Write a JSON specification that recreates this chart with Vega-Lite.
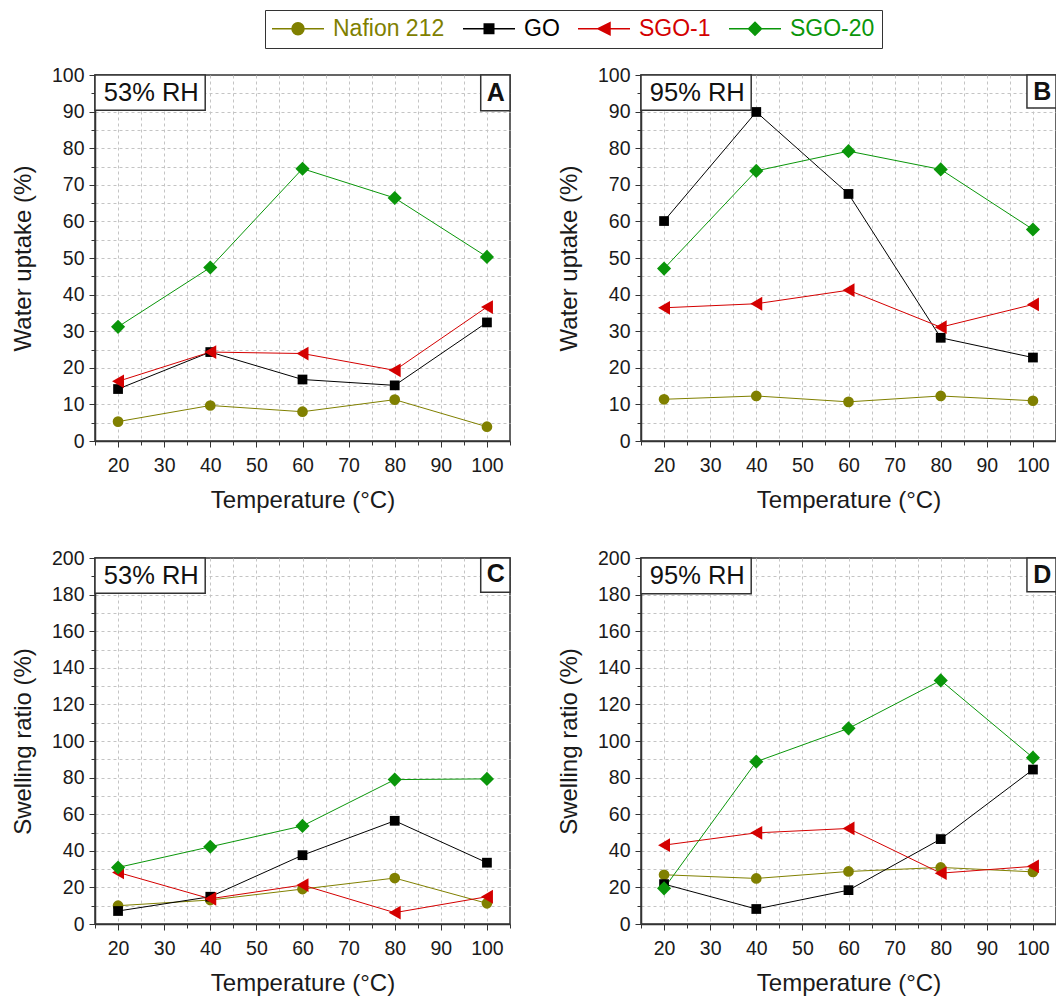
{
  "$schema": "https://vega.github.io/schema/vega-lite/v6.json",
  "background": "white",
  "padding": {"left": 10, "top": 9, "right": 0, "bottom": 0},
  "datasets": {
    "measurements": [
      {"panel": "A", "temperature": 20, "membrane": "Nafion 212", "value": 5.3},
      {"panel": "A", "temperature": 40, "membrane": "Nafion 212", "value": 9.7},
      {"panel": "A", "temperature": 60, "membrane": "Nafion 212", "value": 8.0},
      {"panel": "A", "temperature": 80, "membrane": "Nafion 212", "value": 11.3},
      {"panel": "A", "temperature": 100, "membrane": "Nafion 212", "value": 3.9},
      {"panel": "A", "temperature": 20, "membrane": "GO", "value": 14.2},
      {"panel": "A", "temperature": 40, "membrane": "GO", "value": 24.3},
      {"panel": "A", "temperature": 60, "membrane": "GO", "value": 16.8},
      {"panel": "A", "temperature": 80, "membrane": "GO", "value": 15.2},
      {"panel": "A", "temperature": 100, "membrane": "GO", "value": 32.4},
      {"panel": "A", "temperature": 20, "membrane": "SGO-1", "value": 16.3},
      {"panel": "A", "temperature": 40, "membrane": "SGO-1", "value": 24.3},
      {"panel": "A", "temperature": 60, "membrane": "SGO-1", "value": 23.9},
      {"panel": "A", "temperature": 80, "membrane": "SGO-1", "value": 19.3},
      {"panel": "A", "temperature": 100, "membrane": "SGO-1", "value": 36.6},
      {"panel": "A", "temperature": 20, "membrane": "SGO-20", "value": 31.2},
      {"panel": "A", "temperature": 40, "membrane": "SGO-20", "value": 47.4},
      {"panel": "A", "temperature": 60, "membrane": "SGO-20", "value": 74.4},
      {"panel": "A", "temperature": 80, "membrane": "SGO-20", "value": 66.4},
      {"panel": "A", "temperature": 100, "membrane": "SGO-20", "value": 50.3},

      {"panel": "B", "temperature": 20, "membrane": "Nafion 212", "value": 11.4},
      {"panel": "B", "temperature": 40, "membrane": "Nafion 212", "value": 12.3},
      {"panel": "B", "temperature": 60, "membrane": "Nafion 212", "value": 10.7},
      {"panel": "B", "temperature": 80, "membrane": "Nafion 212", "value": 12.3},
      {"panel": "B", "temperature": 100, "membrane": "Nafion 212", "value": 11.0},
      {"panel": "B", "temperature": 20, "membrane": "GO", "value": 60.1},
      {"panel": "B", "temperature": 40, "membrane": "GO", "value": 89.9},
      {"panel": "B", "temperature": 60, "membrane": "GO", "value": 67.5},
      {"panel": "B", "temperature": 80, "membrane": "GO", "value": 28.2},
      {"panel": "B", "temperature": 100, "membrane": "GO", "value": 22.8},
      {"panel": "B", "temperature": 20, "membrane": "SGO-1", "value": 36.4},
      {"panel": "B", "temperature": 40, "membrane": "SGO-1", "value": 37.5},
      {"panel": "B", "temperature": 60, "membrane": "SGO-1", "value": 41.2},
      {"panel": "B", "temperature": 80, "membrane": "SGO-1", "value": 31.1},
      {"panel": "B", "temperature": 100, "membrane": "SGO-1", "value": 37.3},
      {"panel": "B", "temperature": 20, "membrane": "SGO-20", "value": 47.1},
      {"panel": "B", "temperature": 40, "membrane": "SGO-20", "value": 73.8},
      {"panel": "B", "temperature": 60, "membrane": "SGO-20", "value": 79.2},
      {"panel": "B", "temperature": 80, "membrane": "SGO-20", "value": 74.2},
      {"panel": "B", "temperature": 100, "membrane": "SGO-20", "value": 57.8},

      {"panel": "C", "temperature": 20, "membrane": "Nafion 212", "value": 10.0},
      {"panel": "C", "temperature": 40, "membrane": "Nafion 212", "value": 13.1},
      {"panel": "C", "temperature": 60, "membrane": "Nafion 212", "value": 19.1},
      {"panel": "C", "temperature": 80, "membrane": "Nafion 212", "value": 25.1},
      {"panel": "C", "temperature": 100, "membrane": "Nafion 212", "value": 11.3},
      {"panel": "C", "temperature": 20, "membrane": "GO", "value": 7.1},
      {"panel": "C", "temperature": 40, "membrane": "GO", "value": 14.9},
      {"panel": "C", "temperature": 60, "membrane": "GO", "value": 37.6},
      {"panel": "C", "temperature": 80, "membrane": "GO", "value": 56.4},
      {"panel": "C", "temperature": 100, "membrane": "GO", "value": 33.5},
      {"panel": "C", "temperature": 20, "membrane": "SGO-1", "value": 28.2},
      {"panel": "C", "temperature": 40, "membrane": "SGO-1", "value": 13.8},
      {"panel": "C", "temperature": 60, "membrane": "SGO-1", "value": 21.3},
      {"panel": "C", "temperature": 80, "membrane": "SGO-1", "value": 6.2},
      {"panel": "C", "temperature": 100, "membrane": "SGO-1", "value": 14.9},
      {"panel": "C", "temperature": 20, "membrane": "SGO-20", "value": 30.9},
      {"panel": "C", "temperature": 40, "membrane": "SGO-20", "value": 42.2},
      {"panel": "C", "temperature": 60, "membrane": "SGO-20", "value": 53.6},
      {"panel": "C", "temperature": 80, "membrane": "SGO-20", "value": 78.9},
      {"panel": "C", "temperature": 100, "membrane": "SGO-20", "value": 79.3},

      {"panel": "D", "temperature": 20, "membrane": "Nafion 212", "value": 26.9},
      {"panel": "D", "temperature": 40, "membrane": "Nafion 212", "value": 24.9},
      {"panel": "D", "temperature": 60, "membrane": "Nafion 212", "value": 28.7},
      {"panel": "D", "temperature": 80, "membrane": "Nafion 212", "value": 30.9},
      {"panel": "D", "temperature": 100, "membrane": "Nafion 212", "value": 28.5},
      {"panel": "D", "temperature": 20, "membrane": "GO", "value": 21.8},
      {"panel": "D", "temperature": 40, "membrane": "GO", "value": 8.2},
      {"panel": "D", "temperature": 60, "membrane": "GO", "value": 18.5},
      {"panel": "D", "temperature": 80, "membrane": "GO", "value": 46.4},
      {"panel": "D", "temperature": 100, "membrane": "GO", "value": 84.4},
      {"panel": "D", "temperature": 20, "membrane": "SGO-1", "value": 43.1},
      {"panel": "D", "temperature": 40, "membrane": "SGO-1", "value": 49.8},
      {"panel": "D", "temperature": 60, "membrane": "SGO-1", "value": 52.2},
      {"panel": "D", "temperature": 80, "membrane": "SGO-1", "value": 27.8},
      {"panel": "D", "temperature": 100, "membrane": "SGO-1", "value": 31.5},
      {"panel": "D", "temperature": 20, "membrane": "SGO-20", "value": 19.5},
      {"panel": "D", "temperature": 40, "membrane": "SGO-20", "value": 88.7},
      {"panel": "D", "temperature": 60, "membrane": "SGO-20", "value": 106.9},
      {"panel": "D", "temperature": 80, "membrane": "SGO-20", "value": 133.1},
      {"panel": "D", "temperature": 100, "membrane": "SGO-20", "value": 90.9}
    ]
  },
  "columns": 2,
  "spacing": {"row": 117, "column": 131},
  "bounds": "flush",
  "concat": [
    {
      "width": 415,
      "height": 366,
      "layer": [
        {
          "data": {"name": "measurements"},
          "transform": [{"filter": "datum.panel === 'A'"}],
          "encoding": {
            "x": {
              "field": "temperature", "type": "quantitative",
              "scale": {"domain": [15, 105], "nice": false, "zero": false},
              "axis": {
                "title": "Temperature (°C)",
                "values": [15, 20, 25, 30, 35, 40, 45, 50, 55, 60, 65, 70, 75, 80, 85, 90, 95, 100, 105],
                "tickCount": 200,
                "format": "d",
                "labelExpr": "datum.value % 10 === 0 ? datum.label : ''",
                "labelOverlap": false,
                "gridOpacity": {"condition": {"test": "datum.value === 15 || datum.value === 105", "value": 0}, "value": 1},
                "tickSize": {"condition": {"test": "datum.value % 10 === 0", "value": 6}, "value": 4}
              }
            },
            "y": {
              "field": "value", "type": "quantitative",
              "scale": {"domain": [0, 100], "nice": false, "zero": false},
              "axis": {
                "title": "Water uptake (%)",
                "values": [0, 5, 10, 15, 20, 25, 30, 35, 40, 45, 50, 55, 60, 65, 70, 75, 80, 85, 90, 95, 100],
                "tickCount": 200,
                "format": "d",
                "labelExpr": "datum.value % 10 === 0 ? datum.label : ''",
                "labelOverlap": false,
                "gridOpacity": {"condition": {"test": "datum.value === 0 || datum.value === 100", "value": 0}, "value": 1},
                "tickSize": {"condition": {"test": "datum.value % 10 === 0", "value": 6}, "value": 4}
              }
            },
            "color": {
              "field": "membrane", "type": "nominal",
              "scale": {"domain": ["Nafion 212", "GO", "SGO-1", "SGO-20"], "range": ["#808000", "#000000", "#D40000", "#0A960A"]},
              "legend": {
                "title": null,
                "orient": "none",
                "legendX": 170,
                "legendY": -65,
                "direction": "horizontal",
                "columns": 4,
                "symbolSize": 100,
                "symbolStrokeWidth": 1.5,
                "labelOffset": 38,
                "columnPadding": 15,
                "padding": 7,
                "labelFontSize": 23,
                "labelLimit": 400,
                "strokeColor": "#333333",
                "fillColor": "white",
                "encode": {
                  "symbols": {
                    "update": {
                      "stroke": {"scale": "color", "field": "value"},
                      "strokeWidth": {"value": 1.5},
                      "opacity": {"value": 1}
                    }
                  },
                  "labels": {"update": {"fill": {"scale": "color", "field": "value"}}}
                }
              }
            }
          },
          "layer": [
            {"mark": {"type": "line", "strokeWidth": 1}, "encoding": {}},
            {"transform": [{"filter": "datum.membrane === 'Nafion 212'"}], "mark": {"type": "point", "shape": "circle", "size": 115, "filled": true, "opacity": 1}, "encoding": {}},
            {"transform": [{"filter": "datum.membrane === 'GO'"}], "mark": {"type": "point", "shape": "square", "size": 95, "filled": true, "opacity": 1}, "encoding": {}},
            {"transform": [{"filter": "datum.membrane === 'SGO-1'"}], "mark": {"type": "point", "shape": "triangle-left", "size": 190, "filled": true, "opacity": 1}, "encoding": {}},
            {"transform": [{"filter": "datum.membrane === 'SGO-20'"}], "mark": {"type": "point", "shape": "diamond", "size": 200, "filled": true, "opacity": 1}, "encoding": {}},
            {
              "mark": {"type": "point", "filled": true, "opacity": 0},
              "encoding": {
                "shape": {
                  "field": "membrane", "type": "nominal",
                  "scale": {
                    "domain": ["Nafion 212", "GO", "SGO-1", "SGO-20"],
                    "range": [
                      "M-2.3,0H8.1M1.7,0A1.2,1.2 0 1,1 4.1,0A1.2,1.2 0 1,1 1.7,0Z",
                      "M-2.3,0H8.1M1.95,-0.95H3.85V0.95H1.95Z",
                      "M-2.3,0H8.1M1.7,0L4.1,-1.2L4.1,1.2Z",
                      "M-2.3,0H8.1M1.6,0L2.9,-1.3L4.2,0L2.9,1.3Z"
                    ]
                  }
                }
              }
            }
          ]
        },
        {
          "data": {"values": [{"humidity": "53% RH", "tag": "A"}]},
          "layer": [
            {
              "mark": {"type": "rect", "fill": "white", "stroke": "#333333", "strokeWidth": 1.5},
              "encoding": {"x": {"datum": 15, "type": "quantitative"}, "x2": {"datum": 38.9}, "y": {"datum": 100, "type": "quantitative"}, "y2": {"datum": 90.4}}
            },
            {
              "mark": {"type": "rect", "fill": "white", "stroke": "#333333", "strokeWidth": 1.5},
              "encoding": {"x": {"datum": 98.65, "type": "quantitative"}, "x2": {"datum": 105}, "y": {"datum": 100, "type": "quantitative"}, "y2": {"datum": 90.2}}
            },
            {
              "mark": {"type": "text", "fontSize": 25.5, "color": "#111111"},
              "encoding": {"x": {"datum": 27.2, "type": "quantitative"}, "y": {"datum": 95.0, "type": "quantitative"}, "text": {"field": "humidity"}}
            },
            {
              "mark": {"type": "text", "fontSize": 25, "fontWeight": "bold", "color": "#111111"},
              "encoding": {"x": {"datum": 101.9, "type": "quantitative"}, "y": {"datum": 95.1, "type": "quantitative"}, "text": {"field": "tag"}}
            }
          ]
        }
      ]
    },
    {
      "width": 415,
      "height": 366,
      "layer": [
        {
          "data": {"name": "measurements"},
          "transform": [{"filter": "datum.panel === 'B'"}],
          "encoding": {
            "x": {
              "field": "temperature", "type": "quantitative",
              "scale": {"domain": [15, 105], "nice": false, "zero": false},
              "axis": {
                "title": "Temperature (°C)",
                "values": [15, 20, 25, 30, 35, 40, 45, 50, 55, 60, 65, 70, 75, 80, 85, 90, 95, 100, 105],
                "tickCount": 200,
                "format": "d",
                "labelExpr": "datum.value % 10 === 0 ? datum.label : ''",
                "labelOverlap": false,
                "gridOpacity": {"condition": {"test": "datum.value === 15 || datum.value === 105", "value": 0}, "value": 1},
                "tickSize": {"condition": {"test": "datum.value % 10 === 0", "value": 6}, "value": 4}
              }
            },
            "y": {
              "field": "value", "type": "quantitative",
              "scale": {"domain": [0, 100], "nice": false, "zero": false},
              "axis": {
                "title": "Water uptake (%)",
                "values": [0, 5, 10, 15, 20, 25, 30, 35, 40, 45, 50, 55, 60, 65, 70, 75, 80, 85, 90, 95, 100],
                "tickCount": 200,
                "format": "d",
                "labelExpr": "datum.value % 10 === 0 ? datum.label : ''",
                "labelOverlap": false,
                "gridOpacity": {"condition": {"test": "datum.value === 0 || datum.value === 100", "value": 0}, "value": 1},
                "tickSize": {"condition": {"test": "datum.value % 10 === 0", "value": 6}, "value": 4}
              }
            },
            "color": {
              "field": "membrane", "type": "nominal",
              "scale": {"domain": ["Nafion 212", "GO", "SGO-1", "SGO-20"], "range": ["#808000", "#000000", "#D40000", "#0A960A"]}
            }
          },
          "layer": [
            {"mark": {"type": "line", "strokeWidth": 1}, "encoding": {}},
            {"transform": [{"filter": "datum.membrane === 'Nafion 212'"}], "mark": {"type": "point", "shape": "circle", "size": 115, "filled": true, "opacity": 1}, "encoding": {}},
            {"transform": [{"filter": "datum.membrane === 'GO'"}], "mark": {"type": "point", "shape": "square", "size": 95, "filled": true, "opacity": 1}, "encoding": {}},
            {"transform": [{"filter": "datum.membrane === 'SGO-1'"}], "mark": {"type": "point", "shape": "triangle-left", "size": 190, "filled": true, "opacity": 1}, "encoding": {}},
            {"transform": [{"filter": "datum.membrane === 'SGO-20'"}], "mark": {"type": "point", "shape": "diamond", "size": 200, "filled": true, "opacity": 1}, "encoding": {}}
          ]
        },
        {
          "data": {"values": [{"humidity": "95% RH", "tag": "B"}]},
          "layer": [
            {
              "mark": {"type": "rect", "fill": "white", "stroke": "#333333", "strokeWidth": 1.5},
              "encoding": {"x": {"datum": 15, "type": "quantitative"}, "x2": {"datum": 38.9}, "y": {"datum": 100, "type": "quantitative"}, "y2": {"datum": 90.4}}
            },
            {
              "mark": {"type": "rect", "fill": "white", "stroke": "#333333", "strokeWidth": 1.5},
              "encoding": {"x": {"datum": 98.7, "type": "quantitative"}, "x2": {"datum": 105}, "y": {"datum": 100, "type": "quantitative"}, "y2": {"datum": 91.0}}
            },
            {
              "mark": {"type": "text", "fontSize": 25.5, "color": "#111111"},
              "encoding": {"x": {"datum": 27.2, "type": "quantitative"}, "y": {"datum": 95.0, "type": "quantitative"}, "text": {"field": "humidity"}}
            },
            {
              "mark": {"type": "text", "fontSize": 25, "fontWeight": "bold", "color": "#111111"},
              "encoding": {"x": {"datum": 102.0, "type": "quantitative"}, "y": {"datum": 95.4, "type": "quantitative"}, "text": {"field": "tag"}}
            }
          ]
        }
      ]
    },
    {
      "width": 415,
      "height": 366,
      "layer": [
        {
          "data": {"name": "measurements"},
          "transform": [{"filter": "datum.panel === 'C'"}],
          "encoding": {
            "x": {
              "field": "temperature", "type": "quantitative",
              "scale": {"domain": [15, 105], "nice": false, "zero": false},
              "axis": {
                "title": "Temperature (°C)",
                "values": [15, 20, 25, 30, 35, 40, 45, 50, 55, 60, 65, 70, 75, 80, 85, 90, 95, 100, 105],
                "tickCount": 200,
                "format": "d",
                "labelExpr": "datum.value % 10 === 0 ? datum.label : ''",
                "labelOverlap": false,
                "gridOpacity": {"condition": {"test": "datum.value === 15 || datum.value === 105", "value": 0}, "value": 1},
                "tickSize": {"condition": {"test": "datum.value % 10 === 0", "value": 6}, "value": 4}
              }
            },
            "y": {
              "field": "value", "type": "quantitative",
              "scale": {"domain": [0, 200], "nice": false, "zero": false},
              "axis": {
                "title": "Swelling ratio (%)",
                "values": [0, 10, 20, 30, 40, 50, 60, 70, 80, 90, 100, 110, 120, 130, 140, 150, 160, 170, 180, 190, 200],
                "tickCount": 200,
                "format": "d",
                "labelExpr": "datum.value % 20 === 0 ? datum.label : ''",
                "labelOverlap": false,
                "gridOpacity": {"condition": {"test": "datum.value === 0 || datum.value === 200", "value": 0}, "value": 1},
                "tickSize": {"condition": {"test": "datum.value % 20 === 0", "value": 6}, "value": 4}
              }
            },
            "color": {
              "field": "membrane", "type": "nominal",
              "scale": {"domain": ["Nafion 212", "GO", "SGO-1", "SGO-20"], "range": ["#808000", "#000000", "#D40000", "#0A960A"]}
            }
          },
          "layer": [
            {"mark": {"type": "line", "strokeWidth": 1}, "encoding": {}},
            {"transform": [{"filter": "datum.membrane === 'Nafion 212'"}], "mark": {"type": "point", "shape": "circle", "size": 115, "filled": true, "opacity": 1}, "encoding": {}},
            {"transform": [{"filter": "datum.membrane === 'GO'"}], "mark": {"type": "point", "shape": "square", "size": 95, "filled": true, "opacity": 1}, "encoding": {}},
            {"transform": [{"filter": "datum.membrane === 'SGO-1'"}], "mark": {"type": "point", "shape": "triangle-left", "size": 190, "filled": true, "opacity": 1}, "encoding": {}},
            {"transform": [{"filter": "datum.membrane === 'SGO-20'"}], "mark": {"type": "point", "shape": "diamond", "size": 200, "filled": true, "opacity": 1}, "encoding": {}}
          ]
        },
        {
          "data": {"values": [{"humidity": "53% RH", "tag": "C"}]},
          "layer": [
            {
              "mark": {"type": "rect", "fill": "white", "stroke": "#333333", "strokeWidth": 1.5},
              "encoding": {"x": {"datum": 15, "type": "quantitative"}, "x2": {"datum": 38.9}, "y": {"datum": 200, "type": "quantitative"}, "y2": {"datum": 180.7}}
            },
            {
              "mark": {"type": "rect", "fill": "white", "stroke": "#333333", "strokeWidth": 1.5},
              "encoding": {"x": {"datum": 98.65, "type": "quantitative"}, "x2": {"datum": 105}, "y": {"datum": 200, "type": "quantitative"}, "y2": {"datum": 181.3}}
            },
            {
              "mark": {"type": "text", "fontSize": 25.5, "color": "#111111"},
              "encoding": {"x": {"datum": 27.2, "type": "quantitative"}, "y": {"datum": 190.4, "type": "quantitative"}, "text": {"field": "humidity"}}
            },
            {
              "mark": {"type": "text", "fontSize": 25, "fontWeight": "bold", "color": "#111111"},
              "encoding": {"x": {"datum": 101.9, "type": "quantitative"}, "y": {"datum": 191.0, "type": "quantitative"}, "text": {"field": "tag"}}
            }
          ]
        }
      ]
    },
    {
      "width": 415,
      "height": 366,
      "layer": [
        {
          "data": {"name": "measurements"},
          "transform": [{"filter": "datum.panel === 'D'"}],
          "encoding": {
            "x": {
              "field": "temperature", "type": "quantitative",
              "scale": {"domain": [15, 105], "nice": false, "zero": false},
              "axis": {
                "title": "Temperature (°C)",
                "values": [15, 20, 25, 30, 35, 40, 45, 50, 55, 60, 65, 70, 75, 80, 85, 90, 95, 100, 105],
                "tickCount": 200,
                "format": "d",
                "labelExpr": "datum.value % 10 === 0 ? datum.label : ''",
                "labelOverlap": false,
                "gridOpacity": {"condition": {"test": "datum.value === 15 || datum.value === 105", "value": 0}, "value": 1},
                "tickSize": {"condition": {"test": "datum.value % 10 === 0", "value": 6}, "value": 4}
              }
            },
            "y": {
              "field": "value", "type": "quantitative",
              "scale": {"domain": [0, 200], "nice": false, "zero": false},
              "axis": {
                "title": "Swelling ratio (%)",
                "values": [0, 10, 20, 30, 40, 50, 60, 70, 80, 90, 100, 110, 120, 130, 140, 150, 160, 170, 180, 190, 200],
                "tickCount": 200,
                "format": "d",
                "labelExpr": "datum.value % 20 === 0 ? datum.label : ''",
                "labelOverlap": false,
                "gridOpacity": {"condition": {"test": "datum.value === 0 || datum.value === 200", "value": 0}, "value": 1},
                "tickSize": {"condition": {"test": "datum.value % 20 === 0", "value": 6}, "value": 4}
              }
            },
            "color": {
              "field": "membrane", "type": "nominal",
              "scale": {"domain": ["Nafion 212", "GO", "SGO-1", "SGO-20"], "range": ["#808000", "#000000", "#D40000", "#0A960A"]}
            }
          },
          "layer": [
            {"mark": {"type": "line", "strokeWidth": 1}, "encoding": {}},
            {"transform": [{"filter": "datum.membrane === 'Nafion 212'"}], "mark": {"type": "point", "shape": "circle", "size": 115, "filled": true, "opacity": 1}, "encoding": {}},
            {"transform": [{"filter": "datum.membrane === 'GO'"}], "mark": {"type": "point", "shape": "square", "size": 95, "filled": true, "opacity": 1}, "encoding": {}},
            {"transform": [{"filter": "datum.membrane === 'SGO-1'"}], "mark": {"type": "point", "shape": "triangle-left", "size": 190, "filled": true, "opacity": 1}, "encoding": {}},
            {"transform": [{"filter": "datum.membrane === 'SGO-20'"}], "mark": {"type": "point", "shape": "diamond", "size": 200, "filled": true, "opacity": 1}, "encoding": {}}
          ]
        },
        {
          "data": {"values": [{"humidity": "95% RH", "tag": "D"}]},
          "layer": [
            {
              "mark": {"type": "rect", "fill": "white", "stroke": "#333333", "strokeWidth": 1.5},
              "encoding": {"x": {"datum": 15, "type": "quantitative"}, "x2": {"datum": 38.9}, "y": {"datum": 200, "type": "quantitative"}, "y2": {"datum": 180.4}}
            },
            {
              "mark": {"type": "rect", "fill": "white", "stroke": "#333333", "strokeWidth": 1.5},
              "encoding": {"x": {"datum": 98.7, "type": "quantitative"}, "x2": {"datum": 105}, "y": {"datum": 200, "type": "quantitative"}, "y2": {"datum": 181.5}}
            },
            {
              "mark": {"type": "text", "fontSize": 25.5, "color": "#111111"},
              "encoding": {"x": {"datum": 27.2, "type": "quantitative"}, "y": {"datum": 190.0, "type": "quantitative"}, "text": {"field": "humidity"}}
            },
            {
              "mark": {"type": "text", "fontSize": 25, "fontWeight": "bold", "color": "#111111"},
              "encoding": {"x": {"datum": 102.0, "type": "quantitative"}, "y": {"datum": 190.9, "type": "quantitative"}, "text": {"field": "tag"}}
            }
          ]
        }
      ]
    }
  ],
  "config": {
    "font": "Liberation Sans",
    "view": {"stroke": "#333333", "strokeWidth": 1.5},
    "axis": {
      "labelFont": "Liberation Sans",
      "titleFont": "Liberation Sans",
      "labelFontSize": 19.5,
      "labelColor": "#1a1a1a",
      "titleFontSize": 24,
      "titleFontWeight": "normal",
      "titleColor": "#1a1a1a",
      "domainColor": "#333333",
      "domainWidth": 1.5,
      "tickColor": "#333333",
      "tickWidth": 1,
      "gridColor": "#c4c4c4",
      "gridDash": [3, 3],
      "gridWidth": 1
    },
    "axisX": {"labelPadding": 9, "titlePadding": 14},
    "axisY": {"labelPadding": 5, "titlePadding": 16},
    "legend": {"labelFont": "Liberation Sans"}
  }
}
